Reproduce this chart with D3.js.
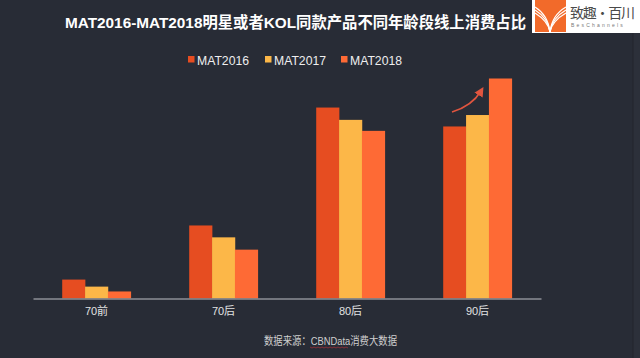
<!DOCTYPE html>
<html>
<head>
<meta charset="utf-8">
<script src="https://cdn.jsdelivr.net/npm/d3@7"></script>
<style>
html,body{margin:0;padding:0;background:#282c36;}
svg{display:block;}
</style>
</head>
<body>
<script>
const categories = ["70前", "70后", "80后", "90后"];
const seriesNames = ["MAT2016", "MAT2017", "MAT2018"];
const mat2016 = [4.3, 16.6, 43.4, 39.1];
const mat2017 = [2.7, 13.9, 40.6, 41.7];
const mat2018 = [1.6, 11.1, 38.1, 50.0];
const colors = ["#e64d21", "#fcb748", "#fe6a35"];
const titleText = "MAT2016-MAT2018明星或者KOL同款产品不同年龄段线上消费占比";
const sourceText = "数据来源：CBNData消费大数据";

const W = 640, H = 358;
const svg = d3.select("body").append("svg").attr("width", W).attr("height", H);
svg.append("rect").attr("width", W).attr("height", H).attr("fill", "#282c36");
svg.append("rect").attr("x", 633).attr("width", 7).attr("height", H).attr("fill", "#2c303a");
svg.append("line").attr("x1", 633).attr("x2", 633).attr("y1", 33).attr("y2", H).attr("stroke", "#22252d").attr("stroke-width", 1);

const font = "'Liberation Sans', 'Noto Sans CJK SC', sans-serif";

// title
svg.append("text").attr("x", 65).attr("y", 27.5)
  .attr("font-family", font).attr("font-weight", "bold").attr("font-size", 15.5)
  .attr("fill", "#ffffff").attr("textLength", 461).attr("lengthAdjust", "spacingAndGlyphs").text(titleText);

// logo
const logo = svg.append("g");
logo.append("rect").attr("x", 532).attr("y", 0).attr("width", 108).attr("height", 33).attr("fill", "#ffffff");
logo.append("rect").attr("x", 535).attr("y", 0).attr("width", 31).attr("height", 32).attr("fill", "#f26a2a");
[3, 6, 9].forEach(r => {
  logo.append("path").attr("d", `M535,${4 + r} Q548,${12 + r} 550,${32}`).attr("fill", "none").attr("stroke", "#fff").attr("stroke-width", 1.2);
  logo.append("path").attr("d", `M566,${4 + r} Q552,${12 + r} 550,${32}`).attr("fill", "none").attr("stroke", "#fff").attr("stroke-width", 1.2);
});
logo.append("text").attr("x", 570).attr("y", 18).attr("font-family", "'Noto Sans CJK SC', sans-serif")
  .attr("font-size", 14).attr("fill", "#4a4a4a").attr("textLength", 65).text("致趣·百川");
logo.append("text").attr("x", 571).attr("y", 27).attr("font-family", font)
  .attr("font-size", 5).attr("fill", "#777").attr("letter-spacing", 2.2).text("BesChannels");

// legend
const legendX = [188, 265, 341];
seriesNames.forEach((s, i) => {
  svg.append("rect").attr("x", legendX[i]).attr("y", 56).attr("width", 6.5).attr("height", 6.5).attr("fill", colors[i]);
  svg.append("text").attr("x", legendX[i] + 9).attr("y", 64.5).attr("font-family", font)
    .attr("font-size", 13.5).attr("fill", "#eeeeee").attr("textLength", 52).attr("lengthAdjust", "spacingAndGlyphs").text(s);
});

// scales
const x0 = d3.scaleBand().domain(categories).range([33, 541]).padding(0);
const groupW = 68.6;
const x1 = d3.scaleBand().domain(seriesNames).range([(x0.bandwidth() - groupW) / 2, (x0.bandwidth() + groupW) / 2]).padding(0);
const y = d3.scaleLinear().domain([0, 50]).range([298.5, 78.5]);

const seriesVals = [mat2016, mat2017, mat2018];
const data = [];
categories.forEach((c, ci) => seriesNames.forEach((s, si) => data.push({c, s, si, v: seriesVals[si][ci]})));

svg.append("g").selectAll("rect").data(data).join("rect")
  .attr("x", d => x0(d.c) + x1(d.s))
  .attr("width", x1.bandwidth() + 0.3)
  .attr("y", d => y(d.v))
  .attr("height", d => y(0) - y(d.v))
  .attr("fill", d => colors[d.si]);

// axis
const axis = svg.append("g").attr("transform", `translate(0,${y(0)})`)
  .call(d3.axisBottom(x0).tickSize(0).tickPadding(9));
axis.select(".domain").attr("stroke", "#8c8f97").attr("stroke-width", 1.3);
axis.selectAll("text").attr("font-family", font).attr("font-size", 11).attr("fill", "#e2e2e2");

// arrow
const defs = svg.append("defs");
defs.append("marker").attr("id", "ah").attr("viewBox", "0 0 10 10").attr("refX", 5).attr("refY", 5)
  .attr("markerWidth", 6).attr("markerHeight", 6).attr("orient", "auto")
  .append("path").attr("d", "M0,0 L10,5 L0,10 z").attr("fill", "#e0553f");
svg.append("path").attr("d", "M452,112 Q472,106 481,91").attr("fill", "none")
  .attr("stroke", "#e0553f").attr("stroke-width", 1.6).attr("marker-end", "url(#ah)");

// source
svg.append("text").attr("x", 264).attr("y", 344.5)
  .attr("font-family", font).attr("font-size", 11).attr("fill", "#cfcfcf")
  .attr("textLength", 133).attr("lengthAdjust", "spacingAndGlyphs").text(sourceText);
svg.append("path").attr("d", d3.range(310, 350, 2).map((xx, i) => (i ? "L" : "M") + xx + "," + (347 + (i % 2 ? 1 : 0))).join(" "))
  .attr("fill", "none").attr("stroke", "#b0303a").attr("stroke-width", 0.7);
</script>
</body>
</html>
